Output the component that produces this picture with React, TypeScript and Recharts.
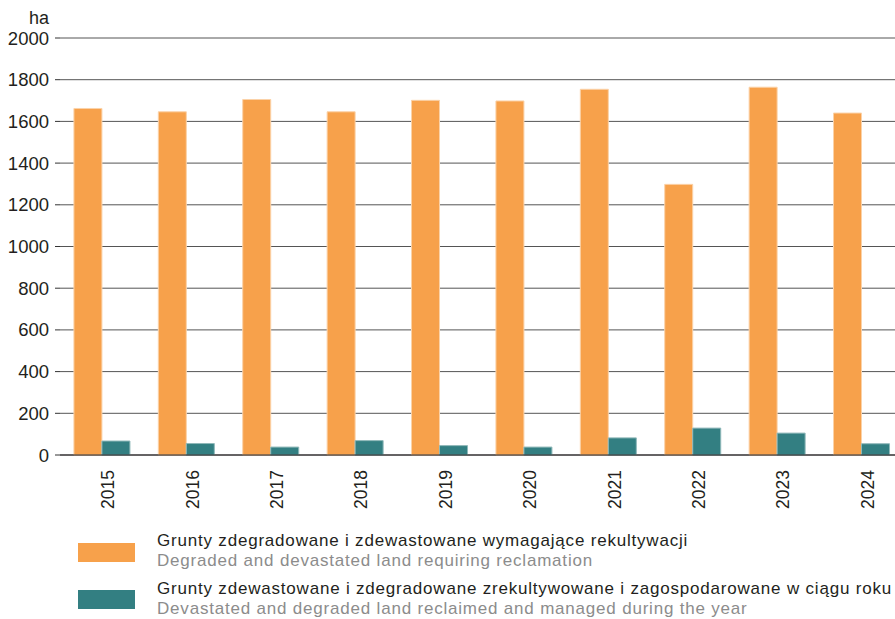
import React from 'react';
import { BarChart, Bar, XAxis, YAxis, CartesianGrid } from 'recharts';

const years = ['2015', '2016', '2017', '2018', '2019', '2020', '2021', '2022', '2023', '2024'];
const requiringReclamation = [1662, 1646, 1705, 1646, 1701, 1698, 1754, 1298, 1764, 1640];
const reclaimedDuringYear = [67, 55, 38, 69, 45, 38, 82, 129, 105, 54];
const yTicks = [0, 200, 400, 600, 800, 1000, 1200, 1400, 1600, 1800, 2000];

const seriesNames = [
    ['Grunty zdegradowane i zdewastowane wymagające rekultywacji', 'Degraded and devastated land requiring reclamation'],
    ['Grunty zdewastowane i zdegradowane zrekultywowane i zagospodarowane w ciągu roku', 'Devastated and degraded land reclaimed and managed during the year'],
];

const ORANGE = '#f7a14b';
const TEAL = '#337f82';
const FONT = '"Liberation Sans", Arial, sans-serif';

const data = years.map((year, i) => ({
    year,
    requiring: requiringReclamation[i],
    reclaimed: reclaimedDuringYear[i],
}));

const YearTick = (props: any) => {
    const { x, y, payload } = props;
    return (
        <text
            transform={`translate(${x + 6},${y + 7}) rotate(-90)`}
            textAnchor="end"
            dominantBaseline="central"
            fontSize={17.5}
            fontFamily={FONT}
            fill="#231f20"
        >
            {payload.value}
        </text>
    );
};

// legend text is a bit wider than plain Arial in the original
const legendText = { fontSize: 17, fontFamily: FONT, letterSpacing: 0.8 };

export default function App() {
    return (
        <div style={{ position: 'fixed', left: 0, top: 0, width: 895, height: 619, overflow: 'hidden', background: '#fff' }}>
            <BarChart
                width={910}
                height={520}
                data={data}
                margin={{ top: 38, right: 6, bottom: 0, left: 0 }}
                barCategoryGap="16.5%"
                barGap={0}
            >
                <CartesianGrid vertical={false} stroke="#555" strokeWidth={1} />
                <XAxis
                    dataKey="year"
                    height={65}
                    tickLine={false}
                    axisLine={{ stroke: '#231f20', strokeWidth: 1.2 }}
                    tick={<YearTick />}
                    interval={0}
                />
                <YAxis
                    width={60}
                    domain={[0, 2000]}
                    ticks={yTicks}
                    axisLine={false}
                    tickLine={{ stroke: '#333' }}
                    tickSize={5}
                    tickMargin={6}
                    tick={{ fontSize: 18.5, fontFamily: FONT, fill: '#231f20' }}
                />
                <Bar dataKey="requiring" fill={ORANGE} stroke="#fbd2a8" strokeWidth={1} isAnimationActive={false} />
                <Bar dataKey="reclaimed" fill={TEAL} stroke="#8fb8b9" strokeWidth={1} isAnimationActive={false} />
            </BarChart>
            <svg width={895} height={619} style={{ position: 'absolute', left: 0, top: 0, pointerEvents: 'none' }}>
                <text x={49} y={23.5} textAnchor="end" fontSize={18} fontFamily={FONT} fill="#231f20">ha</text>
                <rect x={78} y={543} width={57} height={19} fill={ORANGE} />
                <rect x={78} y={590} width={57} height={19} fill={TEAL} />
                <text x={157} y={546} {...legendText} fill="#231f20">{seriesNames[0][0]}</text>
                <text x={157} y={566} {...legendText} fill="#8c8c8c">{seriesNames[0][1]}</text>
                <text x={157} y={594} {...legendText} fill="#231f20">{seriesNames[1][0]}</text>
                <text x={157} y={614} {...legendText} fill="#8c8c8c">{seriesNames[1][1]}</text>
            </svg>
        </div>
    );
}
